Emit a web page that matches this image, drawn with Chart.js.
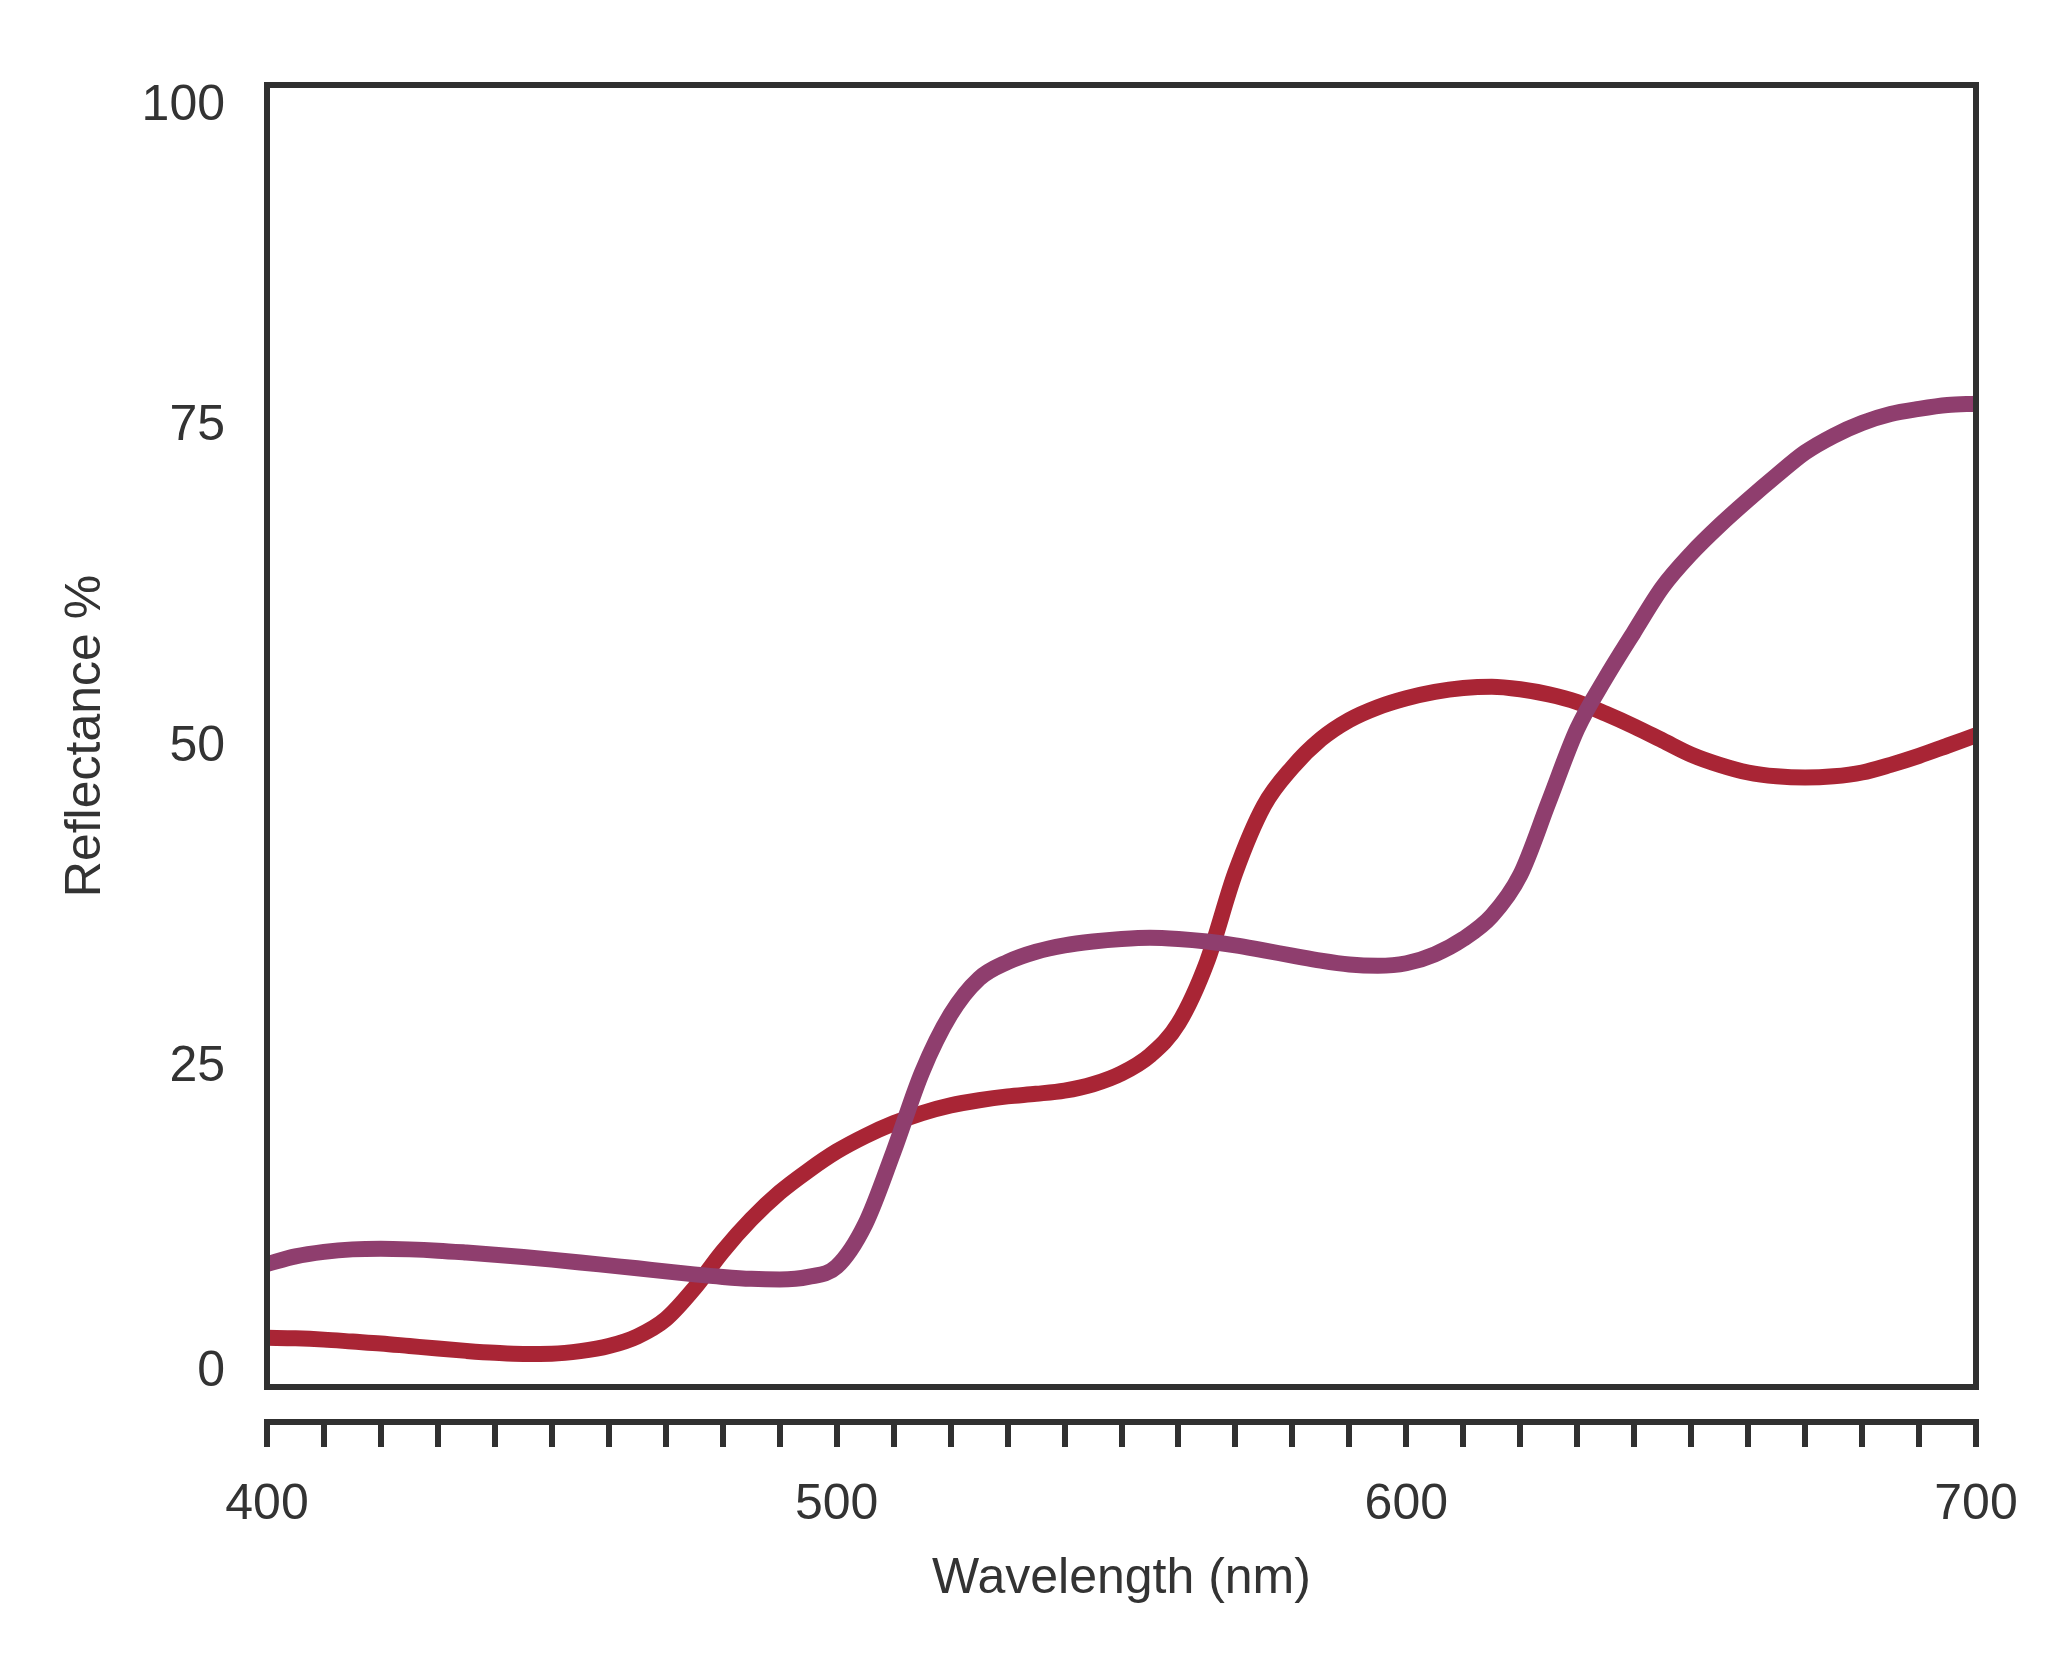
<!DOCTYPE html>
<html>
<head>
<meta charset="utf-8">
<title>Reflectance</title>
<script src="https://cdn.jsdelivr.net/npm/chart.js@4.4.1/dist/chart.umd.min.js"></script>
<style>
  html, body { margin: 0; padding: 0; background: #ffffff; }
  #grafico { display: block; width: 2066px; height: 1654px; }
</style>
</head>
<body>
<canvas id="grafico" width="2066" height="1654"></canvas>
<script>
// Datos (longitud de onda en nm, reflectancia en %)
const wavelengths = [
  400, 405, 410, 415, 420, 425, 430, 435, 440, 445,
  450, 455, 460, 465, 470, 475, 480, 485, 490, 495,
  500, 505, 510, 515, 520, 525, 530, 535, 540, 545,
  550, 555, 560, 565, 570, 575, 580, 585, 590, 595,
  600, 605, 610, 615, 620, 625, 630, 635, 640, 645,
  650, 655, 660, 665, 670, 675, 680, 685, 690, 695,
  700
];

const redValues = [
  3.45, 3.4, 3.3, 3.15, 3.0, 2.8, 2.6, 2.42, 2.27, 2.18,
  2.2, 2.4, 2.8, 3.55, 4.9, 7.3, 10.2, 12.7, 14.8, 16.5,
  18.0, 19.2, 20.2, 21.0, 21.6, 22.0, 22.3, 22.5, 22.75, 23.25,
  24.1, 25.5, 28.0, 32.8, 39.8, 45.0, 48.0, 50.2, 51.7, 52.7,
  53.4, 53.9, 54.2, 54.3, 54.1, 53.7, 53.1, 52.2, 51.2, 50.1,
  49.0, 48.2, 47.6, 47.3, 47.2, 47.3, 47.6, 48.2, 48.9, 49.7,
  50.5
];

const purpleValues = [
  9.2, 9.8, 10.15, 10.35, 10.4, 10.35, 10.25, 10.1, 9.93, 9.75,
  9.55, 9.33, 9.1, 8.87, 8.63, 8.4, 8.2, 8.05, 8.0, 8.2,
  9.0, 12.3, 18.0, 24.2, 28.7, 31.5, 32.8, 33.6, 34.1, 34.4,
  34.6, 34.7, 34.6, 34.4, 34.1, 33.7, 33.3, 32.9, 32.6, 32.5,
  32.7, 33.4, 34.6, 36.4, 39.6, 45.3, 51.0, 55.0, 58.6, 62.1,
  64.7, 66.9, 68.9, 70.8, 72.6, 73.9, 74.9, 75.6, 76.0, 76.3,
  76.4
];

const yTickValues = [0, 25, 50, 75, 100];
const xLabelValues = [400, 500, 600, 700];

const axisColor = '#303030';
const textColor = '#333333';
const fontFamily = '"Liberation Sans", Arial, Helvetica, sans-serif';

function toPoints(values) {
  return wavelengths.map((w, i) => ({ x: w, y: values[i] }));
}

// marco alrededor del area del grafico, por encima de las lineas
const framePlugin = {
  id: 'frame',
  afterDatasetsDraw(chart) {
    const a = chart.chartArea;
    const ctx = chart.ctx;
    ctx.save();
    ctx.strokeStyle = axisColor;
    ctx.lineWidth = 6;
    ctx.lineJoin = 'miter';
    ctx.strokeRect(a.left, a.top, a.right - a.left, a.bottom - a.top);
    ctx.restore();
  }
};

const ctx = document.getElementById('grafico').getContext('2d');
new Chart(ctx, {
  type: 'line',
  data: {
    datasets: [
      {
        label: 'Purple',
        data: toPoints(purpleValues),
        borderColor: '#8f3e6e',
        borderWidth: 16,
        pointRadius: 0,
        cubicInterpolationMode: 'monotone',
        order: 0
      },
      {
        label: 'Red',
        data: toPoints(redValues),
        borderColor: '#a92535',
        borderWidth: 16,
        pointRadius: 0,
        cubicInterpolationMode: 'monotone',
        order: 1
      }
    ]
  },
  options: {
    responsive: false,
    devicePixelRatio: 1,
    animation: false,
    events: [],
    layout: { padding: { top: 85, right: 90, bottom: 0, left: 0 } },
    plugins: { legend: { display: false }, tooltip: { enabled: false } },
    scales: {
      // eje "espaciador" pegado al area (deja el hueco antes del eje con ticks)
      x: {
        type: 'linear',
        position: 'bottom',
        weight: 0,
        min: 400,
        max: 700,
        ticks: { display: false },
        grid: { display: false, drawTicks: false },
        border: { display: false },
        afterFit: s => { s.height = 35; }
      },
      xb: {
        type: 'linear',
        position: 'bottom',
        weight: 1,
        min: 400,
        max: 700,
        ticks: {
          stepSize: 10,
          autoSkip: false,
          maxRotation: 0,
          minRotation: 0,
          padding: 28,
          color: textColor,
          font: { family: fontFamily, size: 50 },
          callback: v => xLabelValues.includes(v) ? String(v) : ''
        },
        grid: {
          display: true,
          drawOnChartArea: false,
          drawTicks: true,
          tickLength: 25,
          lineWidth: 6,
          color: axisColor
        },
        border: { display: true, width: 6, color: axisColor },
        title: {
          display: true,
          text: 'Wavelength (nm)',
          color: textColor,
          font: { family: fontFamily, size: 50 },
          padding: { top: 0, bottom: 45 }
        },
        afterFit: s => { s.height = 232; }
      },
      y: {
        type: 'linear',
        position: 'left',
        min: -0.4,
        max: 101.3,
        afterBuildTicks: s => { s.ticks = yTickValues.map(v => ({ value: v })); },
        ticks: {
          padding: 42,
          labelOffset: 5,
          color: textColor,
          font: c => ({
            family: fontFamily,
            size: 50,
            lineHeight: (c.tick && c.tick.value === 0) ? '30px' : 1.2
          }),
          callback: v => v === 0 ? ['0', ''] : String(v)
        },
        grid: { display: false, drawTicks: false },
        border: { display: false },
        title: {
          display: true,
          text: 'Reflectance %',
          color: textColor,
          font: { family: fontFamily, size: 50 },
          padding: { top: 56, bottom: 0 }
        },
        afterFit: s => { s.width = 267; }
      }
    }
  },
  plugins: [framePlugin]
});
</script>
</body>
</html>
